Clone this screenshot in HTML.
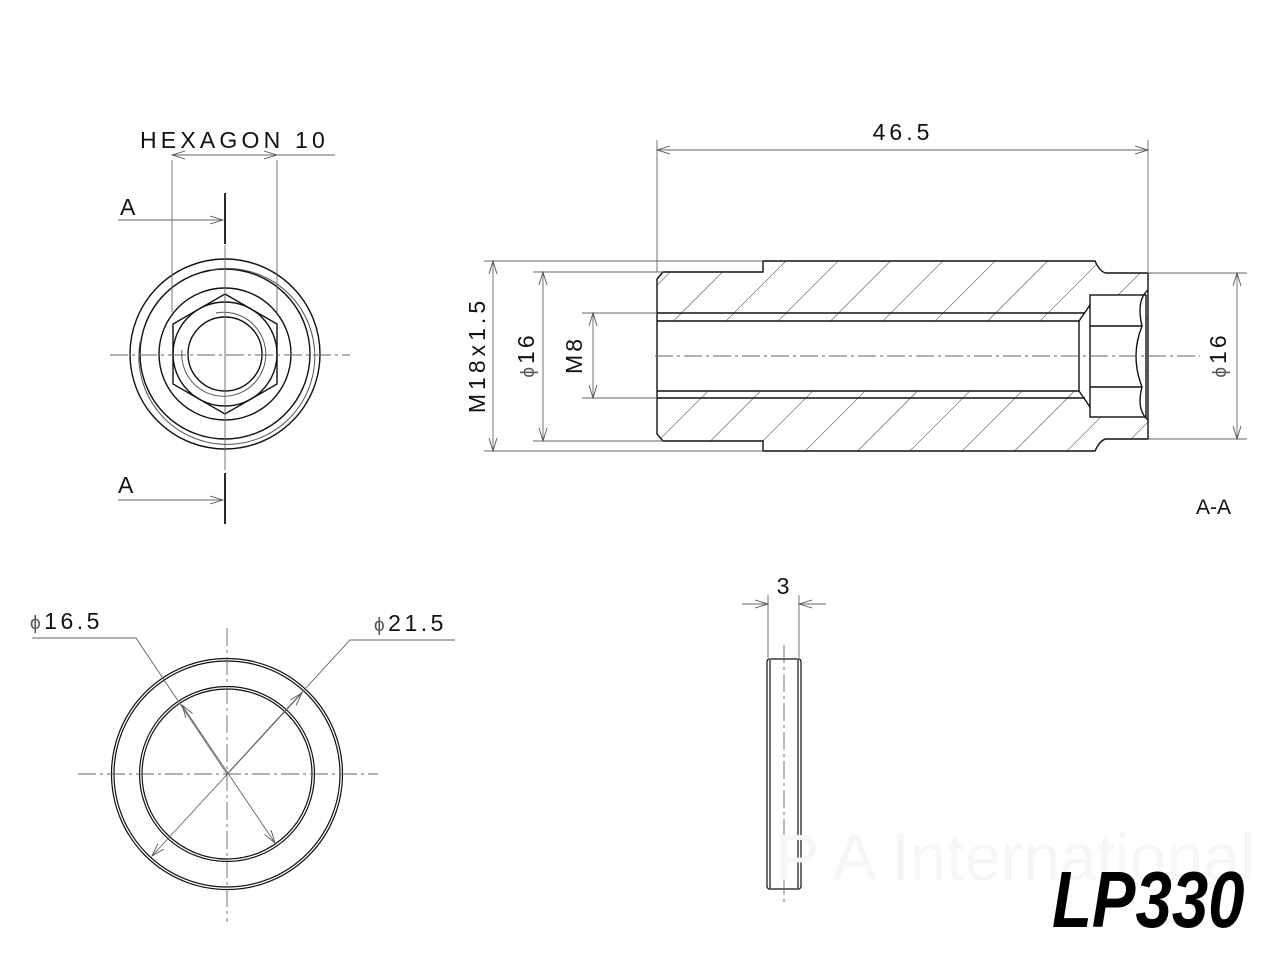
<!DOCTYPE html>
<html><head><meta charset="utf-8"><style>
html,body{margin:0;padding:0;background:#fff;}
svg{display:block;}
text{font-family:"Liberation Sans",sans-serif;fill:#111;}
</style></head><body>
<svg width="1280" height="960" viewBox="0 0 1280 960" xmlns="http://www.w3.org/2000/svg">
<defs>
<pattern id="h" patternUnits="userSpaceOnUse" width="37" height="37" patternTransform="rotate(45)">
<line x1="0" y1="0" x2="0" y2="37" stroke="#222" stroke-width="0.9"/>
</pattern>
<marker id="a" markerWidth="14" markerHeight="10" refX="13" refY="5" orient="auto-start-reverse" markerUnits="userSpaceOnUse">
<path d="M0,1 L13,5 L0,9" fill="none" stroke="#555" stroke-width="0.9"/>
</marker>
</defs>

<!-- ===== Top-left end view ===== -->
<g fill="none" stroke="#111" stroke-width="1.4">
<circle cx="225" cy="354" r="95"/>
<circle cx="225" cy="354" r="85"/>
<circle cx="225" cy="354" r="66"/>
<circle cx="225" cy="354" r="52"/>
<circle cx="225" cy="354" r="37"/>
<polygon points="225,294 277,324 277,384 225,414 173,384 173,324"/>
</g>
<g fill="none" stroke="#555" stroke-width="1">
<path d="M210,270 A88,88 0 1 1 140,342"/>
<path d="M216,313 A42,42 0 1 1 182,350"/>
</g>
<g stroke="#666" stroke-width="0.9" fill="none">
<line x1="110" y1="355" x2="350" y2="355" stroke-dasharray="18,4,3,4"/>
<line x1="225" y1="245" x2="225" y2="470"/>
<line x1="172" y1="160" x2="172" y2="312"/>
<line x1="277" y1="160" x2="277" y2="312"/>
<line x1="172" y1="155" x2="277" y2="155" marker-start="url(#a)" marker-end="url(#a)"/>
<line x1="277" y1="155" x2="335" y2="155"/>
<line x1="118" y1="220" x2="223" y2="220" marker-end="url(#a)"/>
<line x1="118" y1="500" x2="223" y2="500" marker-end="url(#a)"/>
</g>
<g stroke="#111" stroke-width="1.8">
<line x1="225" y1="193" x2="225" y2="244"/>
<line x1="225" y1="473" x2="225" y2="524"/>
</g>
<text x="140" y="148" font-size="23" letter-spacing="4.2">HEXAGON 10</text>
<text x="120" y="215" font-size="23">A</text>
<text x="118" y="493" font-size="23">A</text>

<!-- ===== Section A-A ===== -->
<path d="M663,272 L763,272 L763,261 L1095,261 Q1100,272 1106,273 L1148,273 L1148,439 L1106,439 Q1100,440 1095,451 L763,451 L763,441 L663,441 L657,434 L657,279 Z M657,321 L1079,321 L1090,305 L1090,295 L1146,295 L1146,417 L1090,417 L1090,407 L1079,391 L657,391 Z" fill="url(#h)" fill-rule="evenodd" stroke="none"/>
<g fill="none" stroke="#111" stroke-width="1.4">
<path d="M663,272 L763,272 L763,261 L1095,261 Q1100,272 1106,273 L1148,273 L1148,439 L1106,439 Q1100,440 1095,451 L763,451 L763,441 L663,441 L657,434 L657,279 Z"/>
<path d="M657,321 L1079,321 L1079,391 L657,391"/>
<line x1="657" y1="313" x2="1085" y2="313"/>
<line x1="657" y1="398" x2="1085" y2="398"/>
<path d="M1079,321 L1090,305 M1079,391 L1090,407"/>
<rect x="1090" y="295" width="56" height="122" fill="#fff"/>
<line x1="1090" y1="326" x2="1142" y2="326"/>
<line x1="1090" y1="387" x2="1142" y2="387"/>
<path d="M1148,290 Q1136,300 1142,326 Q1130,356 1142,387 Q1136,410 1148,420" />
</g>
<g stroke="#666" stroke-width="0.9" fill="none">
<line x1="655" y1="356" x2="1200" y2="356" stroke-dasharray="18,4,3,4"/>
<line x1="657" y1="140" x2="657" y2="272"/>
<line x1="1148" y1="140" x2="1148" y2="273"/>
<line x1="657" y1="150" x2="1148" y2="150" marker-start="url(#a)" marker-end="url(#a)"/>
<line x1="484" y1="261" x2="763" y2="261"/>
<line x1="484" y1="451" x2="763" y2="451"/>
<line x1="533" y1="272" x2="663" y2="272"/>
<line x1="533" y1="441" x2="663" y2="441"/>
<line x1="582" y1="313" x2="657" y2="313"/>
<line x1="582" y1="398" x2="657" y2="398"/>
<line x1="493" y1="261" x2="493" y2="451" marker-start="url(#a)" marker-end="url(#a)"/>
<line x1="543" y1="272" x2="543" y2="441" marker-start="url(#a)" marker-end="url(#a)"/>
<line x1="593" y1="313" x2="593" y2="398" marker-start="url(#a)" marker-end="url(#a)"/>
<line x1="1148" y1="273" x2="1247" y2="273"/>
<line x1="1148" y1="439" x2="1247" y2="439"/>
<line x1="1237" y1="273" x2="1237" y2="439" marker-start="url(#a)" marker-end="url(#a)"/>
</g>
<text x="903" y="140" font-size="23" letter-spacing="4" text-anchor="middle">46.5</text>
<text transform="translate(485,355) rotate(-90)" font-size="23" letter-spacing="4" text-anchor="middle">M18x1.5</text>
<text transform="translate(534,355) rotate(-90)" font-size="23" letter-spacing="3" text-anchor="middle"><tspan font-size="19" fill="#555">ϕ</tspan>16</text>
<text transform="translate(582,355) rotate(-90)" font-size="23" letter-spacing="3" text-anchor="middle">M8</text>
<text transform="translate(1226,355) rotate(-90)" font-size="23" letter-spacing="3" text-anchor="middle"><tspan font-size="19" fill="#555">ϕ</tspan>16</text>
<text x="1196" y="514" font-size="21">A-A</text>

<!-- ===== Washer front ===== -->
<g fill="none" stroke="#111" stroke-width="1.2">
<circle cx="227" cy="774" r="115.5"/>
<circle cx="227" cy="774" r="113"/>
<circle cx="227" cy="774" r="87.5"/>
<circle cx="227" cy="774" r="85"/>
</g>
<g stroke="#666" stroke-width="0.9" fill="none">
<line x1="78" y1="774" x2="378" y2="774" stroke-dasharray="18,4,3,4"/>
<line x1="227" y1="628" x2="227" y2="922" stroke-dasharray="18,4,3,4"/>
<polyline points="32,638 136,638 227,774"/>
<line x1="182" y1="705" x2="275" y2="843" marker-start="url(#a)" marker-end="url(#a)"/>
<polyline points="455,640 350,640 227,774"/>
<line x1="152" y1="856" x2="302" y2="693" marker-start="url(#a)" marker-end="url(#a)"/>
</g>
<text x="30" y="629" font-size="23" letter-spacing="3.5"><tspan font-size="19" fill="#555">ϕ</tspan>16.5</text>
<text x="374" y="631" font-size="23" letter-spacing="3.5"><tspan font-size="19" fill="#555">ϕ</tspan>21.5</text>

<!-- ===== Washer side ===== -->
<g fill="none" stroke="#111" stroke-width="1.2">
<path d="M767,662 Q767,659 770,659 L798,659 Q801,659 801,662 L801,886 Q801,889 798,889 L770,889 Q767,889 767,886 Z"/>
<line x1="770" y1="660" x2="770" y2="888"/>
<line x1="798" y1="660" x2="798" y2="888"/>
</g>
<g stroke="#666" stroke-width="0.9" fill="none">
<line x1="784" y1="645" x2="784" y2="905" stroke-dasharray="18,4,3,4"/>
<line x1="768" y1="595" x2="768" y2="658"/>
<line x1="799" y1="595" x2="799" y2="658"/>
<line x1="742" y1="604" x2="768" y2="604" marker-end="url(#a)"/>
<line x1="826" y1="604" x2="799" y2="604" marker-end="url(#a)"/>
</g>
<text x="783" y="594" font-size="23" text-anchor="middle">3</text>

<!-- watermark -->
<text x="775" y="880" font-size="66" font-family="Liberation Serif" style="fill:#f6f6f6">P A International</text>

<text transform="translate(1052,927) scale(0.86,1.05)" font-size="76" font-weight="bold" font-style="italic" style="fill:#000">LP330</text>
</svg>
</body></html>
